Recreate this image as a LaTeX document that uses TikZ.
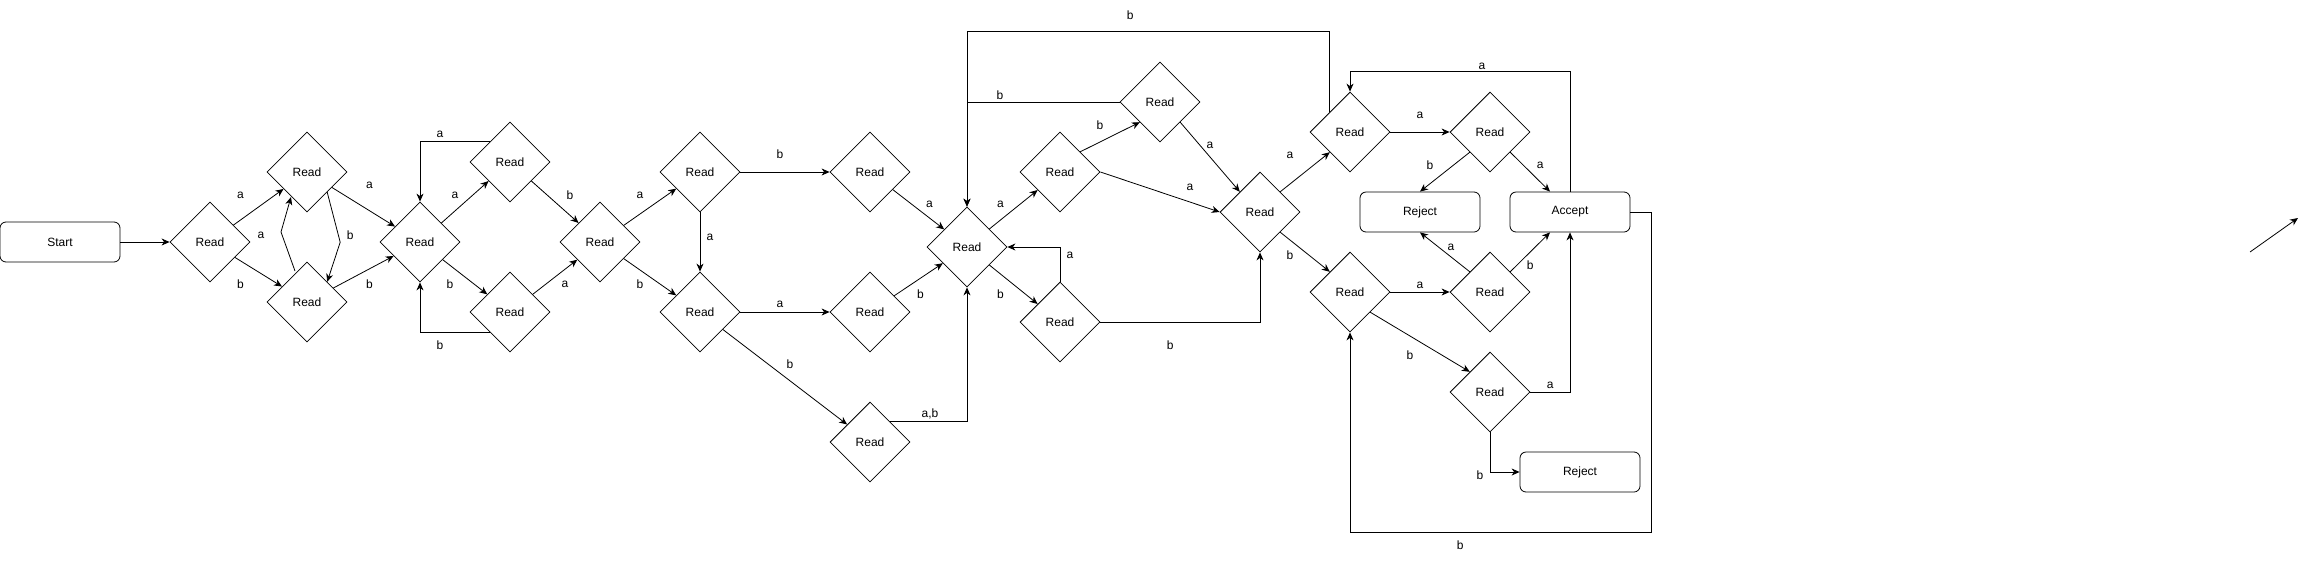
\documentclass[tikz,border=0pt]{standalone}
\usepackage{fontspec}
\setmainfont{Liberation Sans}
\usetikzlibrary{shapes.geometric,arrows.meta}

\begin{document}
\begin{tikzpicture}[x=1pt, y=-1pt, thick, >={Stealth[length=8pt,width=7pt,inset=2.5pt]},
    font=\fontsize{12}{14}\selectfont,
    main/.style = {draw, diamond, minimum size=80pt, inner sep=0pt},
    term/.style = {draw, rounded corners=6pt, minimum width=120pt, minimum height=40pt},
    lbl/.style = {inner sep=1pt}]
    \useasboundingbox (0,0) rectangle (2307,560);

    \node[term] (1)  at (60,242)   {Start};
    \node[main] (2)  at (210,242)  {Read};
    \node[main] (3)  at (307,172)  {Read};
    \node[main] (4)  at (307,302)  {Read};
    \node[main] (5)  at (420,242)  {Read};
    \node[main] (6)  at (510,162)  {Read};
    \node[main] (7)  at (510,312)  {Read};
    \node[main] (8)  at (600,242)  {Read};
    \node[main] (9)  at (700,172)  {Read};
    \node[main] (10) at (700,312)  {Read};
    \node[main] (11) at (870,172)  {Read};
    \node[main] (12) at (870,312)  {Read};
    \node[main] (13) at (870,442)  {Read};
    \node[main] (14) at (967,247)  {Read};
    \node[main] (15) at (1060,172) {Read};
    \node[main] (16) at (1060,322) {Read};
    \node[main] (17) at (1160,102) {Read};
    \node[main] (18) at (1260,212) {Read};
    \node[main] (19) at (1350,132) {Read};
    \node[main] (20) at (1350,292) {Read};
    \node[main] (21) at (1490,132) {Read};
    \node[main] (22) at (1490,292) {Read};
    \node[main] (23) at (1490,392) {Read};
    \node[term] (24) at (1420,212) {Reject};
    \node[term] (25) at (1570,212) {Accept};
    \node[term] (26) at (1580,472) {Reject};
    \coordinate (27) at (2250,252);
    \coordinate (28) at (2298,218);

    \draw[->] (1) -- (2);
    \draw[->] (2) -- node[lbl, midway, shift={(-18,-12)}] {a} (3);
    \draw[->] (2) -- node[lbl, midway, shift={(-18,12)}] {b} (4);
    \draw[->] ([shift={(-12,-31)}]4.center) -- ++(-14,-39) node[lbl, pos=1, shift={(-20,3)}] {a} -- ([shift={(-16,25)}]3.center);
    \draw[->] (3.south east) -- ++(13,50) node[lbl, pos=1, shift={(10,-7)}] {b} -- (4.north east);
    \draw[->] (3) -- node[lbl, midway, shift={(6,-22)}] {a} (5);
    \draw[->] (4) -- node[lbl, midway, shift={(6,12)}] {b} (5);
    \draw[->] (5) -- node[lbl, midway, shift={(-10,-7)}] {a} (6);
    \draw[->] (5) -- node[lbl, midway, shift={(-15,7)}] {b} (7);
    \draw[->] (6.north west) -| node[lbl, pos=.5, shift={(20,-7)}] {a} (5.north);
    \draw[->] (7.south west) -| node[lbl, pos=.5, shift={(20,13)}] {b} (5.south);
    \draw[->] (6) -- node[lbl, midway, shift={(15,-7)}] {b} (8);
    \draw[->] (7) -- node[lbl, midway, shift={(10,7)}] {a} (8);
    \draw[->] (8) -- node[lbl, midway, shift={(-10,-12)}] {a} (9);
    \draw[->] (8) -- node[lbl, midway, shift={(-10,7)}] {b} (10);
    \draw[->] (9) -- node[lbl, midway, shift={(10,-5)}] {a} (10);
    \draw[->] (9) -- node[lbl, midway, shift={(-5,-18)}] {b} (11);
    \draw[->] (10) -- node[lbl, midway, shift={(-5,-8)}] {a} (12);
    \draw[->] (10) -- node[lbl, midway, shift={(5,-13)}] {b} (13);
    \draw[->] (11) -- node[lbl, midway, shift={(11,-5)}] {a} (14);
    \draw[->] (12) -- node[lbl, midway, shift={(2,15)}] {b} (14);
    \draw[->] (13.north east) -| node[lbl, pos=.5, shift={(-37,-8)}] {a,b} (14.south);
    \draw[->] (14) -- node[lbl, midway, shift={(-13,-5)}] {a} (15);
    \draw[->] (14) -- node[lbl, midway, shift={(-13,10)}] {b} (16);
    \draw[->] (15.north east) -- node[lbl, midway, shift={(-10,-12)}] {b} (17.south west);
    \draw[->] (15.east) -- node[lbl, midway, shift={(30,-5)}] {a} (18.west);
    \draw[->] (17.south east) -- node[lbl, midway, shift={(0,-12)}] {a} (18.north west);
    \draw[->] (17.west) -| node[lbl, pos=.5, shift={(33,-7)}] {b} (14.north);
    \draw[->] (19.north west) -- ++(0,-80) -| node[lbl, pos=.275, shift={(0,-17)}] {b} (14.north);
    \draw[->] (16.north) |- node[lbl, pos=.25, shift={(10,-9)}] {a} (14.east);
    \draw[->] (16.east) -| node[lbl, pos=.25, shift={(-10,23)}] {b} (18.south);
    \draw[->] (18.north east) -- node[lbl, midway, shift={(-15,-17)}] {a} (19.south west);
    \draw[->] (18.south east) -- node[lbl, midway, shift={(-15,3)}] {b} (20.north west);
    \draw[->] (19) -- node[lbl, midway, shift={(0,-17)}] {a} (21);
    \draw[->] (21.south west) -- node[lbl, midway, shift={(-15,-7)}] {b} (24.north);
    \draw[->] (21.south east) -- node[lbl, midway, shift={(10,-7)}] {a} ([shift={(-20,0)}]25.north);
    \draw[->] (25.north) -- ++(0,-120) -| node[lbl, pos=.2, shift={(0,-5)}] {a} (19.north);
    \draw[->] (20) -- node[lbl, midway, shift={(0,-7)}] {a} (22);
    \draw[->] (22.north west) -- node[lbl, midway, shift={(6,-5)}] {a} (24.south);
    \draw[->] (22.north east) -- node[lbl, midway, shift={(0,13)}] {b} ([shift={(-20,0)}]25.south);
    \draw[->] (20.south east) -- node[lbl, midway, shift={(-10,13)}] {b} (23.north west);
    \draw[->] (23.east) -| node[lbl, pos=.25, shift={(0,-7)}] {a} (25.south);
    \draw[->] (23.south) |- node[lbl, pos=.5, shift={(-10,3)}] {b} (26.west);
    \draw[->] (25.east) -- ++(21,0) -- ++(0,320) -| node[lbl, pos=.317, shift={(0,13)}] {b} (20.south);
    \draw[->] (27) -- (28);
\end{tikzpicture}
\end{document}
